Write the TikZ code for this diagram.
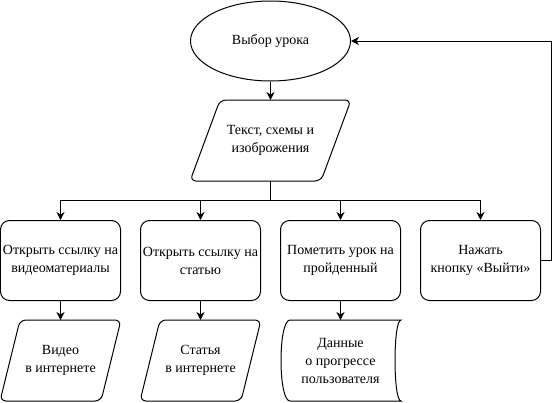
\documentclass[tikz,border=0pt]{standalone}
\usepackage{fontspec}
\setmainfont{Liberation Serif}
\usetikzlibrary{shapes.geometric,arrows.meta,calc}
\begin{document}
\begin{tikzpicture}[x=1pt,y=-1pt,line width=1pt,
  txt/.style={font=\fontsize{14}{18}\selectfont, align=center, inner sep=0pt},
  box/.style={txt, draw, rounded corners=9, minimum width=120, minimum height=80},
  frame/.style={txt, minimum width=#1, minimum height=80},
  oval/.style={txt, draw, ellipse, minimum width=160, minimum height=80},
  arr/.style={-{Stealth[length=8pt,width=8pt,inset=2.5pt]}},
  para/.style={draw, rounded corners=6}]
\useasboundingbox (-0.5,-0.5) rectangle (558.5,401.5);
\node[oval] (ell) at (270,40.5) {Выбор урока};
\node[frame=160] (p) at (270,140) {Текст, схемы и\\изоброжения};
\draw[para] (p.north) -- ($(p.north east)$) -- ($(p.south east)+(-30,0)$) -- (p.south west) -- ($(p.north west)+(30,0)$) -- (p.north);
\node[box] (b1) at (60,260) {Открыть ссылку на\\видеоматериалы};
\node[box] (b2) at (200,260) {Открыть ссылку на\\статью};
\node[box] (b3) at (340,260) {Пометить урок на\\пройденный};
\node[box] (b4) at (480,260) {Нажать\\кнопку «Выйти»};
\node[frame=120] (v) at (60,360) {Видео\\в интернете};
\draw[para] (v.north) -- (v.north east) -- ($(v.south east)+(-20,0)$) -- (v.south west) -- ($(v.north west)+(20,0)$) -- (v.north);
\node[frame=120] (s) at (200,360) {Статья\\в интернете};
\draw[para] (s.north) -- (s.north east) -- ($(s.south east)+(-20,0)$) -- (s.south west) -- ($(s.north west)+(20,0)$) -- (s.north);
\node[frame=120] (d) at (340,360) {Данные\\о прогрессе\\пользователя};
\draw ($(d.north west)+(10,0)$) -- (d.north east)
  .. controls ($(d.north east)+(-8,0)$) and ($(d.south east)+(-8,0)$) .. (d.south east)
  -- ($(d.south west)+(10,0)$)
  .. controls ($(d.south west)+(-2,0)$) and ($(d.north west)+(-2,0)$) .. ($(d.north west)+(10,0)$) -- cycle;
\coordinate (j) at (270,200);
\draw[arr] (ell.south) -- (p.north);
\draw (p.south) -- (j);
\draw[arr] (j) -| (b1.north);
\draw[arr] (j) -| (b2.north);
\draw[arr] (j) -| (b3.north);
\draw[arr] (j) -| (b4.north);
\draw[arr] (b1.south) -- (v.north);
\draw[arr] (b2.south) -- (s.north);
\draw[arr] (b3.south) -- (d.north);
\draw[arr] (b4.east) -- ++(10,0) |- (ell.east);
\end{tikzpicture}
\end{document}
